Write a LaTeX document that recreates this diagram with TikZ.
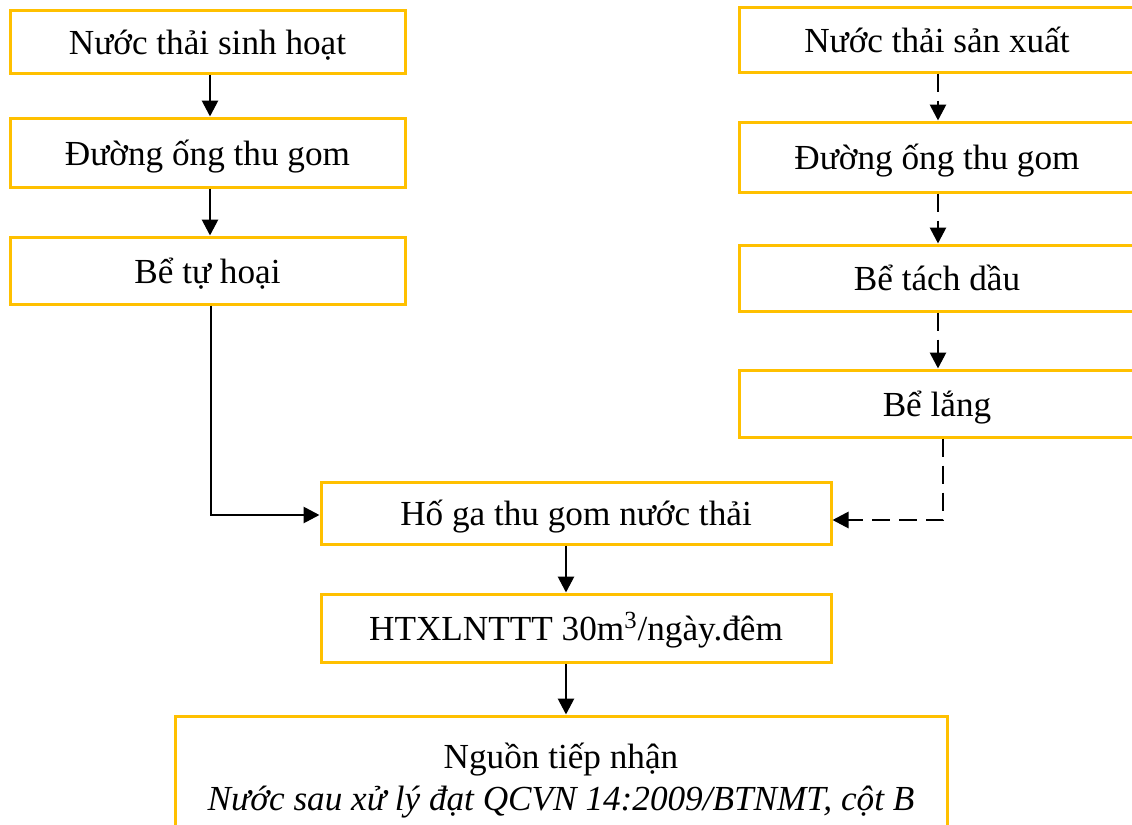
\documentclass[tikz,border=0pt]{standalone}
\usepackage{fontspec}
\setmainfont{Liberation Serif}
\usetikzlibrary{arrows.meta}
\definecolor{boxyellow}{HTML}{FFC000}

\begin{document}
\begin{tikzpicture}[x=0.5pt,y=-0.5pt,
  stagebox/.style={draw=boxyellow, line width=1.5pt, inner sep=0pt,
    font=\fontsize{17.6}{21}\selectfont},
  oneline/.style={stagebox, text height=1.46em, text depth=0.2em},
  flow/.style={line width=1.4pt, -{Triangle[length=8pt,width=8pt]}},
  dashflow/.style={flow, dash pattern=on 9pt off 4.5pt}]
\useasboundingbox (0,0) rectangle (1132,825);
\clip (0,0) rectangle (1132,825);

%Domestic wastewater line (left)
\node[oneline, minimum width=197.5pt, minimum height=31.5pt] (sh1) at (207.5,41.5) {Nước thải sinh hoạt};
\node[oneline, minimum width=197.5pt, minimum height=34.5pt] (sh2) at (207.5,152.5) {Đường ống thu gom};
\node[oneline, minimum width=197.5pt, minimum height=33.5pt] (sh3) at (207.5,270.5) {Bể tự hoại};

%Production wastewater line (right)
\node[oneline, minimum width=198pt, minimum height=32.5pt] (sx1) at (937,39.5) {Nước thải sản xuất};
\node[oneline, minimum width=198pt, minimum height=35pt] (sx2) at (937,157) {Đường ống thu gom};
\node[oneline, minimum width=198pt, minimum height=33pt] (sx3) at (937,278) {Bể tách dầu};
\node[oneline, minimum width=198pt, minimum height=33.5pt] (sx4) at (937,403.5) {Bể lắng};

%Common part
\node[oneline, minimum width=255pt, minimum height=31pt] (hoga) at (576,513) {Hố ga thu gom nước thải};
\node[oneline, minimum width=255pt, minimum height=34pt] (htxl) at (576,628) {HTXLNTTT 30m\textsuperscript{3}/ngày.đêm};
\node[stagebox, minimum width=386pt, minimum height=65pt, align=center] (nguon) at (561,781)
  {Nguồn tiếp nhận\\\textit{Nước sau xử lý đạt QCVN 14:2009/BTNMT, cột B}};

%Where the connectors run
\coordinate (lx) at (210,0);
\coordinate (rx) at (938,0);
\coordinate (cx) at (566,0);
\coordinate (jl) at (211,515);
\coordinate (jr) at (943,520);

\draw[flow] (sh1.south -| lx) -- (sh2.north -| lx);
\draw[flow] (sh2.south -| lx) -- (sh3.north -| lx);
\draw[flow] (sh3.south -| jl) -- (jl) -- (jl -| hoga.west);

\draw[dashflow] (sx1.south -| rx) -- (sx2.north -| rx);
\draw[dashflow] (sx2.south -| rx) -- (sx3.north -| rx);
\draw[dashflow] (sx3.south -| rx) -- (sx4.north -| rx);
\draw[dashflow] (sx4.south -| jr) -- (jr) -- (jr -| hoga.east);

\draw[flow] (hoga.south -| cx) -- (htxl.north -| cx);
\draw[flow] (htxl.south -| cx) -- (nguon.north -| cx);
\end{tikzpicture}
\end{document}
